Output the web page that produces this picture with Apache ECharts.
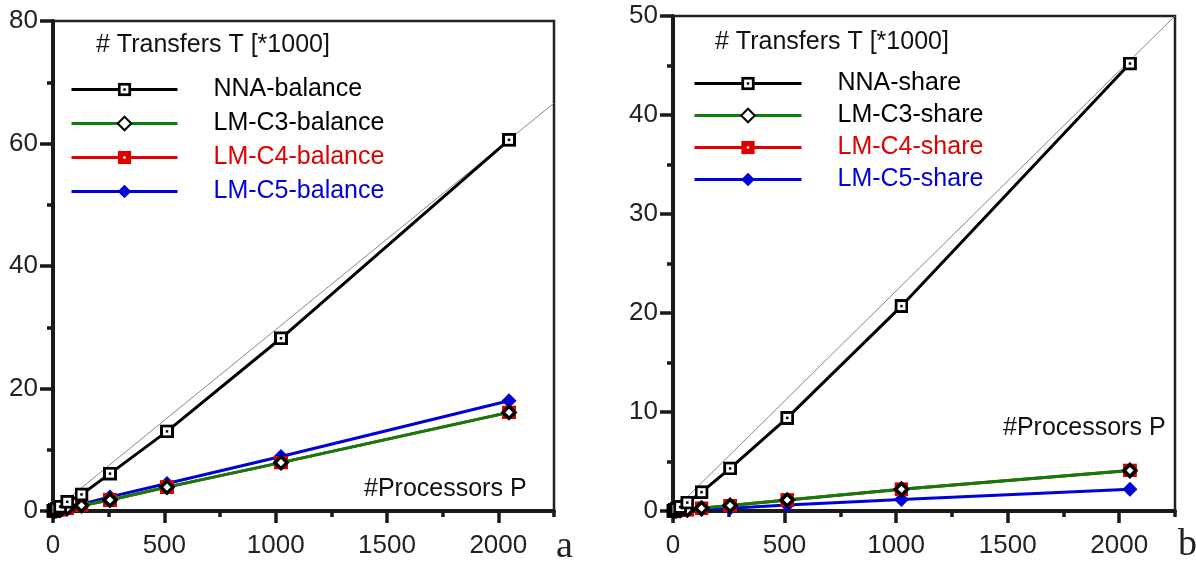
<!DOCTYPE html>
<html><head><meta charset="utf-8">
<script src="https://cdn.jsdelivr.net/npm/echarts@6/dist/echarts.min.js"></script>
<style>html,body{margin:0;padding:0;background:#fff}#c{width:1196px;height:563px}</style>
</head><body><div id="c"></div>
<script>
// ---- data ----
const procs = [2, 4, 8, 16, 32, 64, 128, 256, 512, 1024, 2048];
const nnaBalance = [0.03, 0.07, 0.15, 0.35, 0.7, 1.5, 2.7, 6.1, 13.0, 28.2, 60.6];
const c3Balance  = [0.01, 0.02, 0.05, 0.1, 0.2, 0.45, 0.9, 1.8, 3.9, 7.9, 16.1];
const c4Balance  = [0.01, 0.02, 0.05, 0.1, 0.2, 0.45, 0.9, 1.8, 3.9, 7.9, 16.1];
const c5Balance  = [0.01, 0.02, 0.05, 0.12, 0.25, 0.55, 1.1, 2.3, 4.5, 8.9, 18.0];
const nnaShare = [0.02, 0.05, 0.1, 0.2, 0.4, 0.85, 1.9, 4.3, 9.4, 20.7, 45.2];
const c3Share  = [0.0, 0.01, 0.02, 0.04, 0.07, 0.13, 0.27, 0.55, 1.1, 2.2, 4.1];
const c4Share  = [0.0, 0.01, 0.02, 0.04, 0.07, 0.13, 0.27, 0.55, 1.1, 2.2, 4.1];
const c5Share  = [0.0, 0.01, 0.01, 0.02, 0.04, 0.07, 0.14, 0.28, 0.6, 1.15, 2.2];
const idealBalance = [[0, 0], [2250, 66.6]];
const idealShare = [[0, 0], [2250, 50]];
const xMajorTicks = [0, 500, 1000, 1500, 2000];
const xMinorTicks = [250, 750, 1250, 1750, 2250];
const namesA = ['NNA-balance', 'LM-C3-balance', 'LM-C4-balance', 'LM-C5-balance'];
const namesB = ['NNA-share', 'LM-C3-share', 'LM-C4-share', 'LM-C5-share'];

// ---- styles ----
const FONT = '"Liberation Sans", Arial, sans-serif';
const AX = '#1a1a1a';
const GREEN = '#0a800a', RED = '#e00000', BLUE = '#0000d8';
function svgUri(s){ return 'image://data:image/svg+xml;charset=utf-8,' + encodeURIComponent(s); }
const nnaSym = svgUri("<svg xmlns='http://www.w3.org/2000/svg' width='28' height='28'><rect x='3' y='3' width='22' height='22' fill='white' stroke='black' stroke-width='6'/><rect x='11.5' y='11.5' width='5' height='5' fill='black'/></svg>");
const c4Sym = svgUri("<svg xmlns='http://www.w3.org/2000/svg' width='28' height='28'><rect x='0' y='0' width='28' height='28' fill='" + RED + "'/><rect x='11.5' y='11.5' width='5' height='5' fill='white'/></svg>");

const zip = (xs, ys) => xs.map((x, i) => [x, ys[i]]);

function makeSeries(idx, names, nna, c3, c4, c5, ideal) {
  return [
    { name: 'ideal' + idx, type: 'line', xAxisIndex: idx * 2, yAxisIndex: idx, data: ideal, symbol: 'none',
      lineStyle: { color: '#888', width: 1 }, silent: true, z: 1 },
    { name: names[3], type: 'line', xAxisIndex: idx * 2, yAxisIndex: idx, data: zip(procs, c5),
      symbol: 'diamond', symbolSize: 15, color: BLUE, lineStyle: { color: BLUE, width: 3 },
      itemStyle: { color: BLUE }, z: 2 },
    { name: names[2], type: 'line', xAxisIndex: idx * 2, yAxisIndex: idx, data: zip(procs, c4),
      symbol: c4Sym, symbolSize: 14, color: RED, lineStyle: { color: RED, width: 3 },
      itemStyle: { color: RED }, z: 3 },
    { name: names[1], type: 'line', xAxisIndex: idx * 2, yAxisIndex: idx, data: zip(procs, c3),
      symbol: 'diamond', symbolSize: 12, color: GREEN, lineStyle: { color: GREEN, width: 3 },
      itemStyle: { color: '#fff', borderColor: '#000', borderWidth: 3.5 }, z: 4 },
    { name: names[0], type: 'line', xAxisIndex: idx * 2, yAxisIndex: idx, data: zip(procs, nna),
      symbol: nnaSym, symbolSize: 14, color: '#000', lineStyle: { color: '#000', width: 3 },
      itemStyle: { color: '#000' }, z: 5 }
  ];
}

function xAxes(gi) {
  return [
    { type: 'value', gridIndex: gi, min: 0, max: 2250, position: 'bottom',
      axisLine: { show: true, onZero: false, lineStyle: { color: AX, width: 4 } },
      axisTick: { show: true, customValues: xMajorTicks, length: 12, lineStyle: { color: AX, width: 3.5 } },
      axisLabel: { customValues: xMajorTicks, color: '#222', fontFamily: FONT, fontSize: 26, margin: 22,
        formatter: v => String(v) },
      splitLine: { show: false } },
    { type: 'value', gridIndex: gi, min: 0, max: 2250, position: 'bottom',
      axisLine: { show: false },
      axisTick: { show: true, customValues: xMinorTicks, length: 6, lineStyle: { color: AX, width: 3.5 } },
      axisLabel: { show: false }, splitLine: { show: false } }
  ];
}
function yAxis(gi, max, interval) {
  return { type: 'value', gridIndex: gi, min: 0, max: max, interval: interval,
    axisLine: { show: true, onZero: false, lineStyle: { color: AX, width: 4 } },
    axisTick: { show: true, length: 13, lineStyle: { color: AX, width: 3.5 } },
    minorTick: { show: true, splitNumber: 2, length: 6, lineStyle: { color: AX, width: 3.5 } },
    axisLabel: { color: '#222', fontFamily: FONT, fontSize: 26, margin: 15, formatter: v => String(v) },
    splitLine: { show: false }, minorSplitLine: { show: false } };
}
function legend(left, top, gap, width, names) {
  const cols = ['#000', '#000', RED, BLUE];
  return { orient: 'vertical', left: left, top: top, padding: 0, itemGap: gap,
    itemWidth: width, itemHeight: 17, selectedMode: false,
    lineStyle: { width: 3 },
    data: names.map((n, i) => ({ name: n, textStyle: { color: cols[i] } })),
    textStyle: { fontFamily: FONT, fontSize: 25, lineHeight: 25, padding: [0, 0, 0, 31] } };
}
const titleStyle = { fontFamily: FONT, fontSize: 25, fontWeight: 'normal', color: '#111' };
const option = {
  animation: false,
  backgroundColor: '#fff',
  grid: [
    { left: 53, top: 21, width: 501, height: 490, show: true, borderColor: '#222', borderWidth: 2.5, backgroundColor: 'transparent' },
    { left: 673, top: 16, width: 502, height: 495, show: true, borderColor: '#222', borderWidth: 2.5, backgroundColor: 'transparent' }
  ],
  xAxis: xAxes(0).concat(xAxes(1)),
  yAxis: [yAxis(0, 80, 20), yAxis(1, 50, 10)],
  legend: [legend(70, 77, 9, 106, namesA), legend(693, 71, 7, 107, namesB)],
  title: [
    { text: '# Transfers T [*1000]', left: 96, top: 33, padding: 0, textStyle: titleStyle },
    { text: '# Transfers T [*1000]', left: 715, top: 30, padding: 0, textStyle: titleStyle },
    { text: '#Processors P', left: 364, top: 477, padding: 0, textStyle: titleStyle },
    { text: '#Processors P', left: 1003, top: 416, padding: 0, textStyle: titleStyle },
    { text: 'a', left: 556, top: 528, padding: 0, textStyle: { fontFamily: '"Liberation Serif", serif', fontSize: 38, fontWeight: 'normal', color: '#222' } },
    { text: 'b', left: 1178, top: 526, padding: 0, textStyle: { fontFamily: '"Liberation Serif", serif', fontSize: 38, fontWeight: 'normal', color: '#222' } }
  ],
  series: makeSeries(0, namesA, nnaBalance, c3Balance, c4Balance, c5Balance, idealBalance)
    .concat(makeSeries(1, namesB, nnaShare, c3Share, c4Share, c5Share, idealShare))
};
const chart = echarts.init(document.getElementById('c'), null, { renderer: 'canvas' });
chart.setOption(option);
</script></body></html>
